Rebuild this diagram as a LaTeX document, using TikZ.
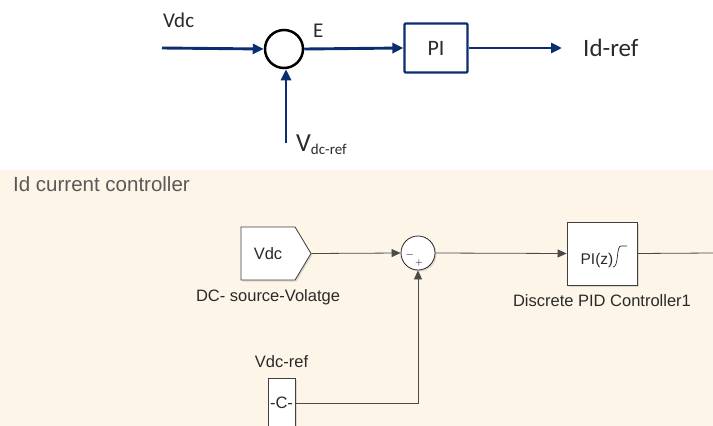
\documentclass[tikz,border=0pt]{standalone}
\usepackage{fontspec}
\setmainfont{Liberation Sans}
\newfontfamily\calib{Carlito}
\usetikzlibrary{arrows.meta,positioning,shapes.symbols,shadows}
\definecolor{cnavy}{HTML}{0B2E73}
\definecolor{cbeige}{HTML}{FDF5E7}
\definecolor{cwire}{HTML}{4A4A4A}
\definecolor{ctxt}{HTML}{2A2A2A}

\begin{document}
\begin{tikzpicture}[x=1pt,y=-1pt,
  narr/.style={-{Triangle[length=11pt,width=10pt]},line width=2.9pt,cnavy},
  sarr/.style={-{Triangle[length=9pt,width=8pt]},line width=0.8pt,cwire},
  swire/.style={line width=0.8pt,cwire},
  blk/.style={draw=black!75,fill=white,line width=0.8pt,
              drop shadow={shadow xshift=1.5pt,shadow yshift=-1.5pt,opacity=0.25}},
  toptxt/.style={font=\calib\fontsize{21}{23}\selectfont,text=ctxt,inner sep=0pt},
  lbl/.style={font=\fontsize{16.5}{18}\selectfont,text=ctxt,inner sep=0pt}]
  \useasboundingbox (0,0) rectangle (713,426);
  % top: block diagram
  \coordinate (vin) at (162,48);
  \coordinate (vref) at (286,143);
  \node[circle,draw=black,line width=2.5pt,minimum size=38pt,inner sep=0pt] (sum1) at (284,49) {};
  \node[draw=cnavy,line width=2.2pt,rounded corners=1pt,minimum width=63pt,minimum height=49pt,
        toptxt,font=\calib\fontsize{22}{24}\selectfont] (pi) at (436,48) {PI};
  \coordinate (idout) at (562,48);
  \node[toptxt,anchor=south west] (vdclbl) at (163,28) {Vdc};
  \node[toptxt,anchor=south west] (elbl) at (313,38) {E};
  \node[toptxt,anchor=west,font=\calib\fontsize{25}{27}\selectfont] (idlbl) at (583,48) {Id-ref};
  \node[toptxt,anchor=west,font=\calib\fontsize{26}{28}\selectfont] (vreflbl) at (296,145)
    {V\raisebox{-3pt}{\fontsize{15}{16}\selectfont dc-ref}};
  \draw[narr] (vin) -- (sum1.west);
  \draw[narr] (sum1.east) -- (pi.west);
  \draw[narr] (pi.east) -- (idout);
  \draw[narr] (vref) -- (vref |- sum1.south);
  % bottom: simulink subsystem
  \fill[cbeige] (0,170) rectangle (713,426);
  \node[lbl,anchor=west,text=black!65,font=\fontsize{20.5}{22}\selectfont] (title) at (13,184)
    {Id current controller};
  \node[blk,signal,signal to=east,signal pointer angle=118,minimum width=70pt,minimum height=53pt,
        lbl] (vdc) at (268,253.5) {Vdc\hspace{22pt}};
  \node[lbl,below=9pt of vdc] (vdcname) {DC- source-Volatge};
  \node[blk,circle,draw=black!85,minimum size=34pt,inner sep=0pt] (sum2) at (418,253) {};
  \node[inner sep=0pt,font=\fontsize{11}{11}\selectfont] (minus) at (410,255) {$-$};
  \node[inner sep=0pt,font=\fontsize{10}{10}\selectfont] (plus) at (419,263) {$+$};
  \node[blk,minimum width=70pt,minimum height=63pt] (pid) at (602,253.5) {};
  \node[lbl,font=\fontsize{15.5}{17}\selectfont] (pidtxt) at (597,260) {PI(z)};
  \draw[line width=0.7pt,ctxt] (613,267) .. controls (619,267) and (616,246) .. (621,246) -- (627,246);
  \node[lbl,below=9pt of pid] (pidname) {Discrete PID Controller1};
  \node[blk,minimum width=27pt,minimum height=50pt,inner sep=0pt,lbl] (const) at (281.5,403) {-C-};
  \node[lbl,above=10pt of const] (constname) {Vdc-ref};
  \coordinate (pout) at (713,253);
  \draw[sarr] (vdc.east) -- (sum2.west);
  \draw[sarr] (sum2.east) -- (pid.west);
  \draw[swire] (pid.east) -- (pout);
  \draw[sarr] (const.east) -| (sum2.south);
\end{tikzpicture}
\end{document}
